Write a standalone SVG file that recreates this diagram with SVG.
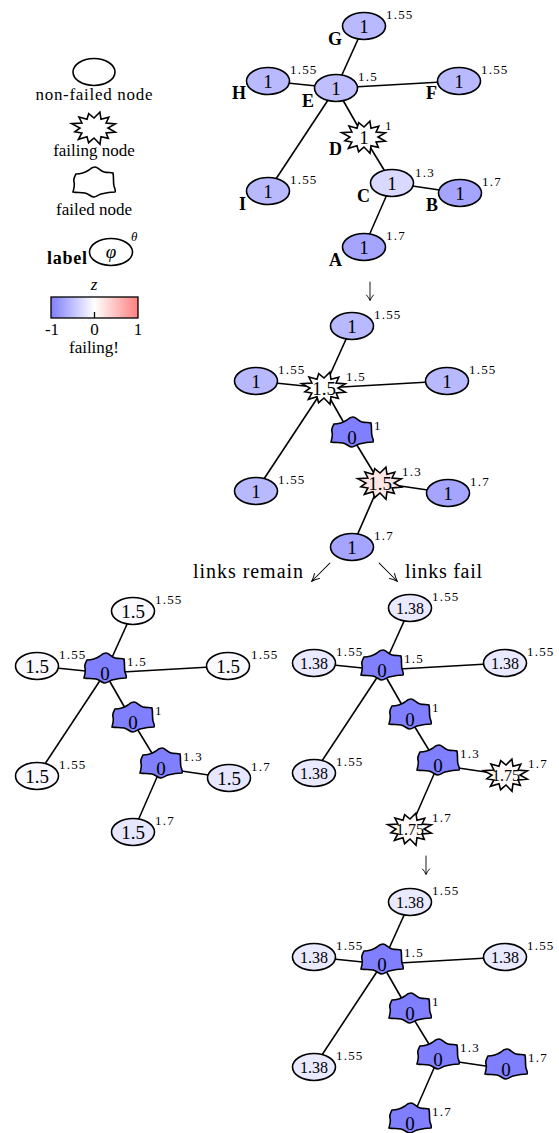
<svg xmlns="http://www.w3.org/2000/svg" xmlns:xlink="http://www.w3.org/1999/xlink" width="559" height="1133" viewBox="0 0 559 1133">
<style>
.edge{stroke:#000;stroke-width:1.6;fill:none}
.nd{stroke:#000;stroke-width:1.6}
.v{font-family:"Liberation Serif",serif;font-size:19px;text-anchor:middle;fill:#000}
.vs{font-size:16px}
.th{font-family:"Liberation Serif",serif;font-size:13px;letter-spacing:1.2px;fill:#000}
.lb{font-family:"Liberation Serif",serif;font-size:18px;font-weight:bold;text-anchor:end;fill:#000}
.lg{font-family:"Liberation Serif",serif;font-size:17px;text-anchor:middle;fill:#000}
.tx{font-family:"Liberation Serif",serif;font-size:20px;text-anchor:start;fill:#000}
.ar{stroke:#000;stroke-width:0.9;fill:none;stroke-linecap:round;stroke-linejoin:round}
</style>
<defs>
<polygon id="star" points="14,0 21.3,4.1 12.1,5 14.3,10.4 7,8.7 6,16.2 0,10 -5.4,14.7 -7,8.7 -15.6,11.3 -12.1,5 -19.1,3.7 -14,0 -22.3,-4.4 -12.1,-5 -15.1,-11 -7,-8.7 -5.3,-14.4 0,-10 5.9,-15.9 7,-8.7 14.8,-10.7 12.1,-5 21.3,-4.1"/>
<path id="failed" d="M-18,-8 C-12,-8 -8,-10 -5,-12 C-3,-14 -1,-15 1,-15 C4,-15 6,-11 10,-10 C14,-9 17,-10 19,-9 C20,-4 19,0 20,4 C21,7 22,9 21,10 C16,10 11,11 7,12 C4,13 2,15 0,15 C-3,15 -5,12 -9,11 C-13,10 -17,11 -21,10 C-20,6 -19,3 -20,0 C-21,-3 -19,-6 -18,-8 Z"/>
<path id="arr" d="M0,-18 V0 M-3.5,-5 Q-1.5,-3 0,0.5 Q1.5,-3 3.5,-5"/>
<linearGradient id="cmap" x1="0" y1="0" x2="1" y2="0">
<stop offset="0" stop-color="#7f7fff"/>
<stop offset="0.5" stop-color="#ffffff"/>
<stop offset="1" stop-color="#ff7f7f"/>
</linearGradient>
</defs>
<rect width="559" height="1133" fill="#fff"/>

<!-- Legend -->
<g id="legend">
<g id="leg-nonfailed"><ellipse class="nd" cx="94" cy="72" rx="21" ry="13.5" fill="#fff"/><text class="lg" x="94" y="100" textLength="117">non-failed node</text></g>
<g id="leg-failing"><use href="#star" x="94" y="128" class="nd" fill="#fff"/><text class="lg" x="94" y="156">failing node</text></g>
<g id="leg-failed"><use href="#failed" x="94" y="182" class="nd" fill="#fff"/><text class="lg" x="94" y="215">failed node</text></g>
<g id="leg-label"><ellipse class="nd" cx="111" cy="252" rx="21.5" ry="13.5" fill="#fff"/><text class="v" x="111" y="258" font-style="italic">φ</text><text class="th" x="131" y="241" font-style="italic">θ</text><text class="lb" x="87" y="264" font-size="15" textLength="40">label</text></g>
<g id="leg-colorbar">
<text class="lg" x="94" y="290" font-style="italic">z</text>
<rect x="51" y="297" width="87" height="21" fill="url(#cmap)" stroke="#000" stroke-width="1.3"/>
<line x1="94.5" y1="312" x2="94.5" y2="318" stroke="#000" stroke-width="1.3"/>
<text class="lg" x="52" y="335" font-size="14">-1</text>
<text class="lg" x="94.5" y="335" font-size="14">0</text>
<text class="lg" x="138" y="335" font-size="14">1</text>
<text class="lg" x="94" y="353" font-size="16">failing!</text>
</g>
</g>

<!-- Connectors -->
<g id="connectors" class="edge">
<!-- top -->
<line x1="336" y1="88" x2="364" y2="26"/><line x1="336" y1="88" x2="268" y2="81"/><line x1="336" y1="88" x2="459" y2="81"/><line x1="336" y1="88" x2="268" y2="191"/><line x1="336" y1="88" x2="364" y2="137"/><line x1="364" y1="137" x2="392" y2="183"/><line x1="392" y1="183" x2="460" y2="193"/><line x1="392" y1="183" x2="364" y2="247"/>
<!-- mid -->
<line x1="324" y1="388" x2="352" y2="326"/><line x1="324" y1="388" x2="256" y2="381"/><line x1="324" y1="388" x2="447" y2="381"/><line x1="324" y1="388" x2="256" y2="491"/><line x1="324" y1="388" x2="352" y2="437"/><line x1="352" y1="437" x2="380" y2="483"/><line x1="380" y1="483" x2="448" y2="493"/><line x1="380" y1="483" x2="352" y2="547"/>
<!-- bottom left -->
<line x1="105" y1="673" x2="133" y2="611"/><line x1="105" y1="673" x2="37" y2="666"/><line x1="105" y1="673" x2="228" y2="666"/><line x1="105" y1="673" x2="37" y2="776"/><line x1="105" y1="673" x2="133" y2="722"/><line x1="133" y1="722" x2="161" y2="768"/><line x1="161" y1="768" x2="229" y2="778"/><line x1="161" y1="768" x2="133" y2="832"/>
<!-- bottom right -->
<line x1="382" y1="670" x2="410" y2="608"/><line x1="382" y1="670" x2="314" y2="663"/><line x1="382" y1="670" x2="505" y2="663"/><line x1="382" y1="670" x2="314" y2="773"/><line x1="382" y1="670" x2="410" y2="719"/><line x1="410" y1="719" x2="438" y2="765"/><line x1="438" y1="765" x2="506" y2="775"/><line x1="438" y1="765" x2="410" y2="829"/>
<!-- final -->
<line x1="382" y1="964" x2="410" y2="902"/><line x1="382" y1="964" x2="314" y2="957"/><line x1="382" y1="964" x2="505" y2="957"/><line x1="382" y1="964" x2="314" y2="1067"/><line x1="382" y1="964" x2="410" y2="1013"/><line x1="410" y1="1013" x2="438" y2="1059"/><line x1="438" y1="1059" x2="506" y2="1069"/><line x1="438" y1="1059" x2="410" y2="1123"/>
</g>

<!-- Transition arrows and captions -->
<g id="transitions">
<use href="#arr" class="ar" transform="translate(370,300)"/>
<text class="tx" x="193" y="578" textLength="110">links remain</text>
<use href="#arr" class="ar" transform="translate(312,581) rotate(45) scale(1,1.4)"/>
<use href="#arr" class="ar" transform="translate(397,581) rotate(-45) scale(1,1.4)"/>
<text class="tx" x="405" y="578" textLength="77">links fail</text>
<use href="#arr" class="ar" transform="translate(426,874)"/>
</g>

<!-- Top graph -->
<g id="top">
<g id="t-G"><ellipse class="nd" cx="364" cy="26" rx="21.5" ry="13.5" fill="#b9b9ff"/><text class="v" x="364" y="32.5">1</text><text class="th" x="386" y="19">1.55</text><text class="lb" x="342" y="45">G</text></g>
<g id="t-E"><ellipse class="nd" cx="336" cy="88" rx="21.5" ry="13.5" fill="#bfbfff"/><text class="v" x="336" y="94.5">1</text><text class="th" x="358" y="81">1.5</text><text class="lb" x="314" y="107">E</text></g>
<g id="t-H"><ellipse class="nd" cx="268" cy="81" rx="21.5" ry="13.5" fill="#b9b9ff"/><text class="v" x="268" y="87.5">1</text><text class="th" x="290" y="74">1.55</text><text class="lb" x="246" y="99">H</text></g>
<g id="t-F"><ellipse class="nd" cx="459" cy="81" rx="21.5" ry="13.5" fill="#b9b9ff"/><text class="v" x="459" y="87.5">1</text><text class="th" x="481" y="74">1.55</text><text class="lb" x="437" y="99">F</text></g>
<g id="t-D"><use href="#star" x="364" y="137" class="nd" fill="#fff"/><text class="v" x="364" y="143.5">1</text><text class="th" x="385" y="130">1</text><text class="lb" x="342" y="155">D</text></g>
<g id="t-I"><ellipse class="nd" cx="268" cy="191" rx="21.5" ry="13.5" fill="#b9b9ff"/><text class="v" x="268" y="197.5">1</text><text class="th" x="290" y="184">1.55</text><text class="lb" x="246" y="210">I</text></g>
<g id="t-C"><ellipse class="nd" cx="392" cy="183" rx="21.5" ry="13.5" fill="#d9d9ff"/><text class="v" x="392" y="189.5">1</text><text class="th" x="415" y="177">1.3</text><text class="lb" x="370" y="202">C</text></g>
<g id="t-B"><ellipse class="nd" cx="460" cy="193" rx="21.5" ry="13.5" fill="#a5a5ff"/><text class="v" x="460" y="199.5">1</text><text class="th" x="482" y="186">1.7</text><text class="lb" x="438" y="211">B</text></g>
<g id="t-A"><ellipse class="nd" cx="364" cy="247" rx="21.5" ry="13.5" fill="#a5a5ff"/><text class="v" x="364" y="253.5">1</text><text class="th" x="386" y="240">1.7</text><text class="lb" x="342" y="266">A</text></g>
</g>

<!-- Middle graph -->
<g id="mid">
<g id="m-G"><ellipse class="nd" cx="352" cy="326" rx="21.5" ry="13.5" fill="#b9b9ff"/><text class="v" x="352" y="332.5">1</text><text class="th" x="374" y="319">1.55</text></g>
<g id="m-E"><use href="#star" x="324" y="388" class="nd" fill="#fff"/><text class="v" x="324" y="395">1.5</text><text class="th" x="346" y="381">1.5</text></g>
<g id="m-H"><ellipse class="nd" cx="256" cy="381" rx="21.5" ry="13.5" fill="#b9b9ff"/><text class="v" x="256" y="387.5">1</text><text class="th" x="278" y="374">1.55</text></g>
<g id="m-F"><ellipse class="nd" cx="447" cy="381" rx="21.5" ry="13.5" fill="#b9b9ff"/><text class="v" x="447" y="387.5">1</text><text class="th" x="469" y="374">1.55</text></g>
<g id="m-D"><use href="#failed" x="352" y="432" class="nd" fill="#7f7fff"/><text class="v" x="352" y="444">0</text><text class="th" x="374" y="430">1</text></g>
<g id="m-I"><ellipse class="nd" cx="256" cy="491" rx="21.5" ry="13.5" fill="#b9b9ff"/><text class="v" x="256" y="497.5">1</text><text class="th" x="278" y="484">1.55</text></g>
<g id="m-C"><use href="#star" x="380" y="483" class="nd" fill="#ffe6e6"/><text class="v" x="380" y="490">1.5</text><text class="th" x="402" y="476">1.3</text></g>
<g id="m-B"><ellipse class="nd" cx="448" cy="493" rx="21.5" ry="13.5" fill="#a5a5ff"/><text class="v" x="448" y="499.5">1</text><text class="th" x="470" y="486">1.7</text></g>
<g id="m-A"><ellipse class="nd" cx="352" cy="547" rx="21.5" ry="13.5" fill="#a5a5ff"/><text class="v" x="352" y="553.5">1</text><text class="th" x="374" y="540">1.7</text></g>
</g>

<!-- Bottom-left graph: links remain -->
<g id="bl">
<g id="bl-G"><ellipse class="nd" cx="133" cy="611" rx="21.5" ry="13.5" fill="#f9f9ff"/><text class="v" x="133" y="617.5">1.5</text><text class="th" x="155" y="604">1.55</text></g>
<g id="bl-E"><use href="#failed" x="105" y="668" class="nd" fill="#7f7fff"/><text class="v" x="105" y="680">0</text><text class="th" x="127" y="666">1.5</text></g>
<g id="bl-H"><ellipse class="nd" cx="37" cy="666" rx="21.5" ry="13.5" fill="#f9f9ff"/><text class="v" x="37" y="672.5">1.5</text><text class="th" x="59" y="659">1.55</text></g>
<g id="bl-F"><ellipse class="nd" cx="228" cy="666" rx="21.5" ry="13.5" fill="#f9f9ff"/><text class="v" x="228" y="672.5">1.5</text><text class="th" x="251" y="659">1.55</text></g>
<g id="bl-D"><use href="#failed" x="133" y="717" class="nd" fill="#7f7fff"/><text class="v" x="133" y="729">0</text><text class="th" x="155" y="715">1</text></g>
<g id="bl-I"><ellipse class="nd" cx="37" cy="776" rx="21.5" ry="13.5" fill="#f9f9ff"/><text class="v" x="37" y="782.5">1.5</text><text class="th" x="59" y="769">1.55</text></g>
<g id="bl-C"><use href="#failed" x="161" y="763" class="nd" fill="#7f7fff"/><text class="v" x="161" y="775">0</text><text class="th" x="183" y="761">1.3</text></g>
<g id="bl-B"><ellipse class="nd" cx="229" cy="778" rx="21.5" ry="13.5" fill="#e6e6ff"/><text class="v" x="229" y="784.5">1.5</text><text class="th" x="251" y="771">1.7</text></g>
<g id="bl-A"><ellipse class="nd" cx="133" cy="832" rx="21.5" ry="13.5" fill="#e6e6ff"/><text class="v" x="133" y="838.5">1.5</text><text class="th" x="155" y="825">1.7</text></g>
</g>

<!-- Bottom-right graph: links fail -->
<g id="br">
<g id="br-G"><ellipse class="nd" cx="410" cy="608" rx="21.5" ry="13.5" fill="#e9e9ff"/><text class="v vs" x="410" y="613.5">1.38</text><text class="th" x="432" y="601">1.55</text></g>
<g id="br-E"><use href="#failed" x="382" y="665" class="nd" fill="#7f7fff"/><text class="v" x="382" y="677">0</text><text class="th" x="404" y="663">1.5</text></g>
<g id="br-H"><ellipse class="nd" cx="314" cy="663" rx="21.5" ry="13.5" fill="#e9e9ff"/><text class="v vs" x="314" y="668.5">1.38</text><text class="th" x="336" y="656">1.55</text></g>
<g id="br-F"><ellipse class="nd" cx="505" cy="663" rx="21.5" ry="13.5" fill="#e9e9ff"/><text class="v vs" x="505" y="668.5">1.38</text><text class="th" x="527" y="656">1.55</text></g>
<g id="br-D"><use href="#failed" x="410" y="714" class="nd" fill="#7f7fff"/><text class="v" x="410" y="726">0</text><text class="th" x="432" y="712">1</text></g>
<g id="br-I"><ellipse class="nd" cx="314" cy="773" rx="21.5" ry="13.5" fill="#e9e9ff"/><text class="v vs" x="314" y="778.5">1.38</text><text class="th" x="336" y="766">1.55</text></g>
<g id="br-C"><use href="#failed" x="438" y="760" class="nd" fill="#7f7fff"/><text class="v" x="438" y="772">0</text><text class="th" x="460" y="758">1.3</text></g>
<g id="br-B"><use href="#star" x="506" y="775" class="nd" fill="#fff9f9"/><text class="v vs" x="506" y="780.5">1.75</text><text class="th" x="528" y="768">1.7</text></g>
<g id="br-A"><use href="#star" x="410" y="829" class="nd" fill="#fff9f9"/><text class="v vs" x="410" y="834.5">1.75</text><text class="th" x="432" y="822">1.7</text></g>
</g>

<!-- Final graph -->
<g id="fin">
<g id="f-G"><ellipse class="nd" cx="410" cy="902" rx="21.5" ry="13.5" fill="#e9e9ff"/><text class="v vs" x="410" y="907.5">1.38</text><text class="th" x="432" y="895">1.55</text></g>
<g id="f-E"><use href="#failed" x="382" y="959" class="nd" fill="#7f7fff"/><text class="v" x="382" y="971">0</text><text class="th" x="404" y="957">1.5</text></g>
<g id="f-H"><ellipse class="nd" cx="314" cy="957" rx="21.5" ry="13.5" fill="#e9e9ff"/><text class="v vs" x="314" y="962.5">1.38</text><text class="th" x="336" y="950">1.55</text></g>
<g id="f-F"><ellipse class="nd" cx="505" cy="957" rx="21.5" ry="13.5" fill="#e9e9ff"/><text class="v vs" x="505" y="962.5">1.38</text><text class="th" x="527" y="950">1.55</text></g>
<g id="f-D"><use href="#failed" x="410" y="1008" class="nd" fill="#7f7fff"/><text class="v" x="410" y="1020">0</text><text class="th" x="432" y="1006">1</text></g>
<g id="f-I"><ellipse class="nd" cx="314" cy="1067" rx="21.5" ry="13.5" fill="#e9e9ff"/><text class="v vs" x="314" y="1072.5">1.38</text><text class="th" x="336" y="1060">1.55</text></g>
<g id="f-C"><use href="#failed" x="438" y="1054" class="nd" fill="#7f7fff"/><text class="v" x="438" y="1066">0</text><text class="th" x="460" y="1052">1.3</text></g>
<g id="f-B"><use href="#failed" x="506" y="1064" class="nd" fill="#7f7fff"/><text class="v" x="506" y="1076">0</text><text class="th" x="528" y="1062">1.7</text></g>
<g id="f-A"><use href="#failed" x="410" y="1118" class="nd" fill="#7f7fff"/><text class="v" x="410" y="1130">0</text><text class="th" x="432" y="1116">1.7</text></g>
</g>
</svg>
